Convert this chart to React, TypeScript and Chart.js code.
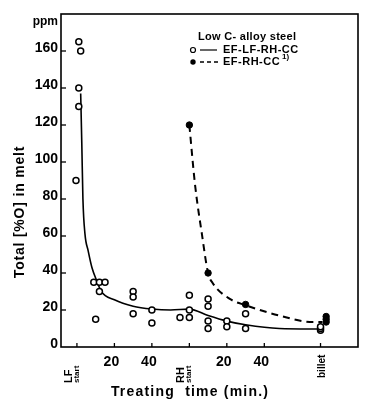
import React, { useEffect, useRef } from "react";
import { Chart, registerables } from "chart.js";

Chart.register(...registerables);

// Open circles: EF-LF-RH-CC (x in treating-axis units, y in ppm)
const openX = [1, 2, 1, 1, -0.5, 10, 9, 12, 15, 12, 30, 30, 30, 40, 40, 55, 60, 60, 60, 70, 70, 70, 70, 80, 80, 90, 90, 130, 130, 130];
const openY = [165, 160, 140, 130, 90, 15, 35, 35, 35, 30, 30, 27, 18, 20, 13, 16, 16, 28, 20, 26, 22, 14, 10, 14, 11, 18, 10, 9, 10, 11];

// Filled circles: EF-RH-CC
const filledX = [60, 70, 90, 133, 133, 133];
const filledY = [120, 40, 23, 13.5, 15, 16.5];

// Fitted curves as drawn
const curveLFX = [2, 2.6, 3.2, 4.3, 6, 8, 10.5, 13, 20, 30, 40, 50, 60, 70, 80, 90, 108, 130];
const curveLFY = [137, 110, 80, 61, 52, 43, 36, 30, 25.5, 22, 20.5, 20, 20.5, 17, 14, 12, 10, 9.7];
const curveRHX = [60, 63, 66.7, 70, 72.5, 81.6, 90, 108, 126, 131];
const curveRHY = [120, 88, 61, 40, 34.5, 26, 22.6, 17, 13.5, 13.5];

// Axes
const yTickValues = [0, 20, 40, 60, 80, 100, 120, 140, 160];
const xTickValues = [0, 20, 40, 60, 80, 100, 130];
const xTickLabels = ["LF|start", "20", "40", "RH|start", "20", "40", "billet"];

const xMin = -8.5, xMax = 150, yMin = 0, yMax = 180;

const toPts = (xs: number[], ys: number[]) => xs.map((x, i) => ({ x, y: ys[i] }));

const FONT = '"Liberation Sans", Arial, sans-serif';

const decorPlugin = {
  id: "decor",
  afterDraw(chart: any) {
    const ctx: CanvasRenderingContext2D = chart.ctx;
    const { left, top, right, bottom } = chart.chartArea;
    const xs = chart.scales.x, ys = chart.scales.y;
    ctx.save();
    ctx.strokeStyle = "#000";
    ctx.fillStyle = "#000";
    ctx.lineWidth = 1.6;
    ctx.strokeRect(left, top, right - left, bottom - top);

    // Y ticks & labels
    ctx.lineWidth = 1.3;
    ctx.font = `bold 14px ${FONT}`;
    ctx.textAlign = "right";
    ctx.textBaseline = "middle";
    yTickValues.forEach((v) => {
      const py = ys.getPixelForValue(v);
      if (v !== 0) {
        ctx.beginPath(); ctx.moveTo(left, py); ctx.lineTo(left + 5, py); ctx.stroke();
      }
      ctx.fillText(String(v), 58, py - 3);
    });
    ctx.font = `bold 12px ${FONT}`;
    ctx.fillText("ppm", 58, ys.getPixelForValue(176));

    // X ticks & labels
    xTickValues.forEach((v, i) => {
      const px = xs.getPixelForValue(v);
      ctx.beginPath(); ctx.moveTo(px, bottom); ctx.lineTo(px, bottom - 4); ctx.stroke();
      const lab = xTickLabels[i];
      if (lab.includes("|")) {
        const [a, b] = lab.split("|");
        ctx.save();
        ctx.translate(px - 2, 383);
        ctx.rotate(-Math.PI / 2);
        ctx.textAlign = "left";
        ctx.textBaseline = "alphabetic";
        ctx.font = `bold 11px ${FONT}`;
        ctx.fillText(a, 0, -3);
        ctx.font = `bold 8px ${FONT}`;
        ctx.fillText(b, 0, 4);
        ctx.restore();
      } else if (lab === "billet") {
        ctx.save();
        ctx.translate(px + 2, 378);
        ctx.rotate(-Math.PI / 2);
        ctx.textAlign = "left";
        ctx.textBaseline = "middle";
        ctx.font = `bold 10px ${FONT}`;
        ctx.fillText(lab, 0, 0);
        ctx.restore();
      } else {
        ctx.textAlign = "center";
        ctx.textBaseline = "middle";
        ctx.font = `bold 14px ${FONT}`;
        ctx.fillText(lab, px - 3, 362);
      }
    });

    // Axis titles
    (ctx as any).letterSpacing = "1.2px";
    ctx.font = `bold 14px ${FONT}`;
    ctx.textAlign = "center";
    ctx.textBaseline = "middle";
    ctx.fillText("Treating  time (min.)", 190, 392);
    (ctx as any).letterSpacing = "0.8px";
    ctx.save();
    ctx.translate(20, 212);
    ctx.rotate(-Math.PI / 2);
    ctx.fillText("Total [%O] in melt", 0, 0);
    ctx.restore();

    // Legend
    (ctx as any).letterSpacing = "0.3px";
    ctx.textAlign = "left";
    ctx.font = `bold 11px ${FONT}`;
    ctx.fillText("Low C- alloy steel", 198, 37);
    (ctx as any).letterSpacing = "0.5px";
    ctx.fillText("EF-LF-RH-CC", 223, 50);
    ctx.fillText("EF-RH-CC", 223, 62);
    ctx.font = `bold 8px ${FONT}`;
    (ctx as any).letterSpacing = "0px";
    ctx.fillText("1)", 282, 57);
    ctx.lineWidth = 1.2;
    ctx.beginPath(); ctx.arc(193, 50, 2.5, 0, Math.PI * 2); ctx.stroke();
    ctx.beginPath(); ctx.moveTo(200, 50); ctx.lineTo(217, 50); ctx.stroke();
    ctx.beginPath(); ctx.arc(193, 62, 2.7, 0, Math.PI * 2); ctx.fill();
    ctx.setLineDash([4, 3]);
    ctx.lineWidth = 1.5;
    ctx.beginPath(); ctx.moveTo(200, 62); ctx.lineTo(220, 62); ctx.stroke();
    ctx.restore();
  },
};

export default function App() {
  const ref = useRef<HTMLCanvasElement | null>(null);
  useEffect(() => {
    document.body.style.margin = "0";
    if (!ref.current) return;
    const chart = new Chart(ref.current, {
      type: "scatter",
      data: {
        datasets: [
          {
            type: "scatter",
            data: toPts(openX, openY),
            pointRadius: 3,
            pointBorderWidth: 1.5,
            pointBorderColor: "#000",
            pointBackgroundColor: "#fff",
          } as any,
          {
            type: "scatter",
            data: toPts(filledX, filledY),
            pointRadius: 3.2,
            pointBorderWidth: 1,
            pointBorderColor: "#000",
            pointBackgroundColor: "#000",
          } as any,
          {
            type: "line",
            data: toPts(curveLFX, curveLFY),
            borderColor: "#000",
            borderWidth: 1.6,
            pointRadius: 0,
            fill: false,
            cubicInterpolationMode: "monotone",
          } as any,
          {
            type: "line",
            data: toPts(curveRHX, curveRHY),
            borderColor: "#000",
            borderWidth: 2,
            borderDash: [7, 5],
            pointRadius: 0,
            fill: false,
            cubicInterpolationMode: "monotone",
          } as any,
        ],
      },
      options: {
        animation: false,
        responsive: false,
        devicePixelRatio: 1,
        layout: { padding: { left: 61, top: 14, right: 8, bottom: 54 } },
        plugins: { legend: { display: false }, tooltip: { enabled: false } },
        scales: {
          x: { type: "linear", min: xMin, max: xMax, display: false },
          y: { type: "linear", min: yMin, max: yMax, display: false },
        },
      },
      plugins: [decorPlugin],
    });
    return () => chart.destroy();
  }, []);
  return (
    <div style={{ width: 366, height: 401, background: "#fff" }}>
      <canvas ref={ref} width={366} height={401} style={{ display: "block", width: 366, height: 401 }} />
    </div>
  );
}
